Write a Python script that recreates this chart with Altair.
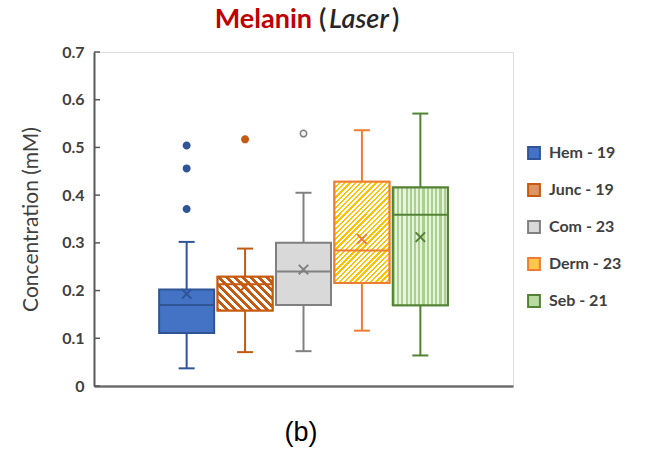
import altair as alt
import pandas as pd

# ---------------- data ----------------
categories = ["Hem - 19", "Junc - 19", "Com - 23", "Derm - 23", "Seb - 21"]
positions = [1, 2, 3, 4, 5]
whisker_low = [0.037, 0.071, 0.073, 0.116, 0.064]
q1 = [0.111, 0.158, 0.170, 0.216, 0.169]
median = [0.170, 0.213, 0.240, 0.284, 0.359]
q3 = [0.202, 0.229, 0.300, 0.428, 0.416]
whisker_high = [0.302, 0.288, 0.405, 0.536, 0.571]
mean = [0.193, 0.209, 0.244, 0.308, 0.312]

outlier_cat = ["Hem - 19", "Hem - 19", "Hem - 19", "Junc - 19", "Com - 23"]
outlier_pos = [1, 1, 1, 2, 3]
outlier_val = [0.504, 0.456, 0.371, 0.517, 0.529]

y_ticks = [0.0, 0.1, 0.2, 0.3, 0.4, 0.5, 0.6, 0.7]

# ---------------- styles ----------------
fills = ["#4472c4", "#dc9465", "#d9d9d9", "#f9c74a", "#b7dba0"]
strokes = ["#2f5597", "#c55a11", "#808080", "#ed7d31", "#548235"]
outlier_fills = ["#2f5597", "#c55a11", "#f2f2f2", "#ed7d31", "#548235"]
FONT = "Lato"

df = pd.DataFrame({
    "cat": categories, "pos": positions, "low": whisker_low, "q1": q1,
    "median": median, "q3": q3, "high": whisker_high, "mean": mean,
})
out_df = pd.DataFrame({"cat": outlier_cat, "pos": outlier_pos, "value": outlier_val})
tick_df = pd.DataFrame({"v": y_ticks})

xscale = alt.Scale(domain=[-0.5, 6.5], nice=False, zero=False)
yscale = alt.Scale(domain=[0, 0.7], nice=False)
fill_scale = alt.Scale(domain=categories, range=fills)
stroke_scale = alt.Scale(domain=categories, range=strokes)

X = alt.X("pos:Q", scale=xscale,
          axis=alt.Axis(labels=False, ticks=False, title=None, grid=False,
                        domainColor="#6f6f6f", domainWidth=2.5))


def stripes(c1, c2, n, frac=0.5):
    st = []
    for k in range(n):
        a = k / n
        b = (k + frac) / n
        e = (k + 1) / n
        st += [{"offset": a, "color": c1}, {"offset": b, "color": c1},
               {"offset": b, "color": c2}, {"offset": e, "color": c2}]
    return st


def diag_grad(w, h, c1, c2, n, up=True, frac=0.5):
    k = (w + h) / (w * w + h * h)
    if up:   # "///"
        return {"gradient": "linear", "x1": 0, "y1": 0, "x2": w * k, "y2": h * k,
                "stops": stripes(c1, c2, n, frac)}
    # "\\\\"
    return {"gradient": "linear", "x1": 0, "y1": 1, "x2": w * k, "y2": 1 - h * k,
            "stops": stripes(c1, c2, n, frac)}


junc_fill = diag_grad(55, 34, "#c55a11", "#ffffff", 11, up=False, frac=0.5)
derm_fill = diag_grad(55, 101, "#ffc000", "#ffffff", 30, up=True, frac=0.45)
seb_fill = {"gradient": "linear", "x1": 0, "y1": 0, "x2": 1, "y2": 0,
            "stops": stripes("#a9d18e", "#e7f3df", 13, 0.5)}

base = alt.Chart(df)

boxes = base.mark_bar(size=55, strokeWidth=2).encode(
    x=X,
    y=alt.Y("q1:Q", scale=yscale,
            axis=alt.Axis(values=y_ticks, format=".1~f", grid=False, ticks=False,
                          labelFont=FONT, labelFontWeight="bold", labelFontSize=16,
                          labelColor="#404040", labelPadding=10,
                          domainColor="#595959", domainWidth=2,
                          title="Concentration (mM)", titleFont=FONT,
                          titleFontSize=21, titleFontWeight="normal",
                          titleColor="#404040", titlePadding=20)),
    y2="q3:Q",
    fill=alt.Fill("cat:N", scale=fill_scale, sort=categories,
                  legend=alt.Legend(title=None, orient="none", legendX=432, legendY=93,
                                    symbolType="square", symbolSize=140,
                                    symbolStrokeWidth=2, labelFont=FONT,
                                    labelFontWeight="bold", labelFontSize=16,
                                    labelColor="#404040", rowPadding=17,
                                    labelOffset=7)),
    stroke=alt.Stroke("cat:N", scale=stroke_scale, sort=categories),
)


def overlay(cat, fill):
    return base.transform_filter(alt.datum.cat == cat).mark_bar(
        size=55, strokeWidth=2, fill=fill).encode(
        x=X, y=alt.Y("q1:Q", scale=yscale), y2="q3:Q",
        stroke=alt.Stroke("cat:N", scale=stroke_scale, legend=None))


junc_box = overlay("Junc - 19", junc_fill)
derm_box = overlay("Derm - 23", derm_fill)
seb_box = overlay("Seb - 21", seb_fill)

whisk_up = base.mark_rule(strokeWidth=2).encode(
    x=X, y=alt.Y("q3:Q", scale=yscale), y2="high:Q",
    stroke=alt.Stroke("cat:N", scale=stroke_scale, legend=None))
whisk_dn = base.mark_rule(strokeWidth=2).encode(
    x=X, y=alt.Y("low:Q", scale=yscale), y2="q1:Q",
    stroke=alt.Stroke("cat:N", scale=stroke_scale, legend=None))

caps = base.transform_fold(["low", "high"], as_=["k", "v"]).mark_point(
    shape="M-1,0L1,0", size=256, strokeWidth=2, filled=False, opacity=1).encode(
    x=X, y=alt.Y("v:Q", scale=yscale),
    stroke=alt.Stroke("cat:N", scale=stroke_scale, legend=None))

med = base.mark_point(shape="M-1,0L1,0", size=54 * 54, strokeWidth=2,
                      filled=False, opacity=1).encode(
    x=X, y=alt.Y("median:Q", scale=yscale),
    stroke=alt.Stroke("cat:N", scale=stroke_scale, legend=None))

means = base.mark_point(shape="M-1,-1L1,1M-1,1L1,-1", size=90, strokeWidth=2,
                        filled=False, opacity=1).encode(
    x=X, y=alt.Y("mean:Q", scale=yscale),
    stroke=alt.Stroke("cat:N", scale=stroke_scale, legend=None))

outl = alt.Chart(out_df).mark_circle(size=42, opacity=1, strokeWidth=1.5).encode(
    x=X, y=alt.Y("value:Q", scale=yscale),
    color=alt.Color("cat:N", scale=alt.Scale(domain=categories, range=outlier_fills),
                    legend=None),
    stroke=alt.Stroke("cat:N", scale=stroke_scale, legend=None))

ticks_in = alt.Chart(tick_df).mark_rule(color="#595959", strokeWidth=1.5).encode(
    x=alt.value(0), x2=alt.value(6), y=alt.Y("v:Q", scale=yscale))

one = pd.DataFrame({"a": [0]})
TY = -32
t_mel = alt.Chart(one).mark_text(text="Melanin", font=FONT, fontSize=27,
                                 fontWeight="bold", color="#c00000", align="right",
                                 baseline="middle").encode(
    x=alt.value(218), y=alt.value(TY))
t_lp = alt.Chart(one).mark_text(text="(", font=FONT, fontSize=27, fontWeight=600,
                                color="#262626", align="left",
                                baseline="middle").encode(
    x=alt.value(225), y=alt.value(TY))
t_las = alt.Chart(one).mark_text(text="Laser", font=FONT, fontSize=27, fontWeight=600,
                                 fontStyle="italic", color="#262626", align="left",
                                 baseline="middle").encode(
    x=alt.value(235), y=alt.value(TY))
t_rp = alt.Chart(one).mark_text(text=")", font=FONT, fontSize=27, fontWeight=600,
                                color="#262626", align="left",
                                baseline="middle").encode(
    x=alt.value(298), y=alt.value(TY))
t_b = alt.Chart(one).mark_text(text="(b)", font="Liberation Sans", fontSize=27,
                               color="#000000", align="center",
                               baseline="middle").encode(
    x=alt.value(207), y=alt.value(381))

chart = alt.layer(
    boxes, junc_box, derm_box, seb_box, whisk_up, whisk_dn, caps, med, means,
    outl, ticks_in, t_mel, t_lp, t_las, t_rp, t_b
).properties(
    width=419, height=334,
    autosize=alt.AutoSizeParams(type="none"),
    padding={"left": 94, "top": 52, "right": 133, "bottom": 64},
).configure_view(
    stroke="#8c8c8c", strokeWidth=2
).configure(background="white")

chart.save("out.html", embed_options={"renderer": "svg", "actions": False})
